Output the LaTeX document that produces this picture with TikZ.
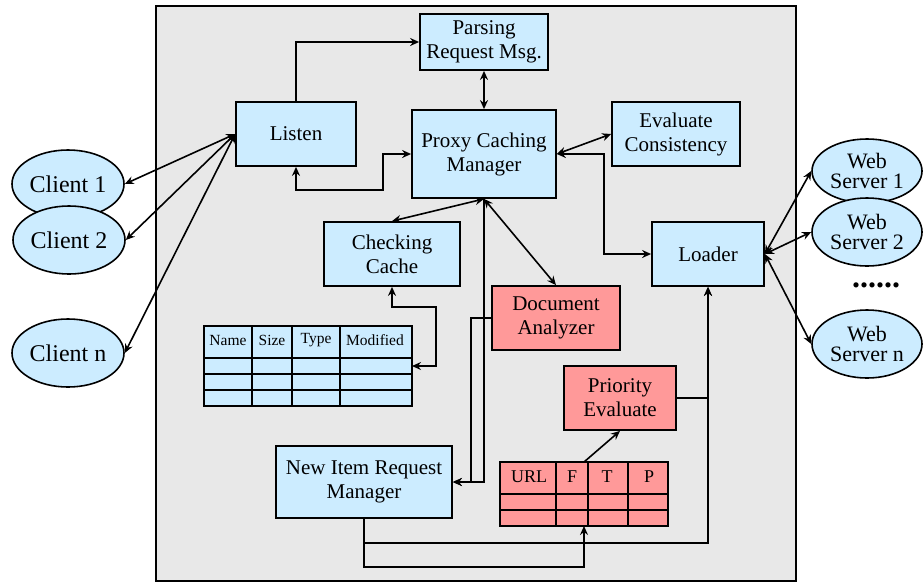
\documentclass[tikz,border=0pt]{standalone}
\usepackage{fontspec}
\setmainfont{Liberation Serif}
\usetikzlibrary{arrows.meta,shapes.geometric}
\definecolor{boxblue}{RGB}{204,236,255}
\definecolor{boxred}{RGB}{255,153,153}
\definecolor{bggray}{RGB}{232,232,232}
\tikzset{
	blk/.style={draw, line width=1.8pt, fill=boxblue, align=center, inner sep=0pt,
		font=\fontsize{21}{24}\selectfont},
	redblk/.style={blk, fill=boxred},
	host/.style={draw, ellipse, line width=1.6pt, fill=boxblue, align=center, inner sep=0pt,
		minimum width=112pt, minimum height=68pt},
	cell/.style={inner sep=0pt, font=\fontsize{15.5}{18}\selectfont},
	link/.style={line width=1.6pt, -{Stealth[length=9pt,width=8pt,inset=3pt]}},
	dlink/.style={link, {Stealth[length=9pt,width=8pt,inset=3pt]}-{Stealth[length=9pt,width=8pt,inset=3pt]}}
}
\begin{document}
\begin{tikzpicture}[x=1pt, y=-1pt]
			\useasboundingbox (0, 0) rectangle (923, 582);
			\filldraw[fill=bggray, line width=1.6pt] (156, 6) rectangle (796, 581);
			% boxes
			\node[blk, minimum width=128pt, minimum height=56pt] (Parsing) at (484, 42) {Parsing\\Request Msg.};
			\node[blk, minimum width=120pt, minimum height=64pt] (Listen) at (296, 134) {Listen};
			\node[blk, minimum width=144pt, minimum height=88pt] (Proxy) at (484, 154) {Proxy Caching\\Manager};
			\node[blk, minimum width=128pt, minimum height=64pt] (Consist) at (676, 134) {Evaluate\\Consistency};
			\node[blk, minimum width=136pt, minimum height=64pt] (Checking) at (392, 254) {Checking\\Cache};
			\node[blk, minimum width=112pt, minimum height=64pt] (Loader) at (708, 254) {Loader};
			\node[redblk, minimum width=128pt, minimum height=64pt] (DocAn) at (556, 318) {Document\\Analyzer};
			\node[redblk, minimum width=112pt, minimum height=64pt] (Priority) at (620, 398) {Priority\\Evaluate};
			\node[blk, minimum width=176pt, minimum height=72pt] (NewItem) at (364, 482) {New Item Request\\Manager};
			% cache table
			\filldraw[fill=boxblue, line width=1.6pt] (204, 326) rectangle (412, 406);
			\foreach \y in {358, 374, 390}
				\draw[line width=1.6pt] (204, \y) -- (412, \y);
			\foreach \x in {252, 292, 340}
				\draw[line width=1.6pt] (\x, 326) -- (\x, 406);
			\node[cell] (colName) at (228, 340) {Name};
			\node[cell] (colSize) at (272, 340) {Size};
			\node[cell] (colType) at (316, 340) {Type};
			\node[cell] (colMod) at (375, 340) {Modified};
			\coordinate (cachetab) at (412, 366);
			% url table
			\filldraw[fill=boxred, line width=1.6pt] (500, 462) rectangle (668, 526);
			\foreach \y in {494, 510}
				\draw[line width=1.6pt] (500, \y) -- (668, \y);
			\foreach \x in {556, 588, 628}
				\draw[line width=1.6pt] (\x, 462) -- (\x, 526);
			\node[cell, font=\fontsize{18}{20}\selectfont] (colURL) at (529, 477) {URL};
			\node[cell, font=\fontsize{18}{20}\selectfont] (colF) at (572, 477) {F};
			\node[cell, font=\fontsize{18}{20}\selectfont] (colT) at (607, 477) {T};
			\node[cell, font=\fontsize{18}{20}\selectfont] (colP) at (649, 477) {P};
			\coordinate (urltop) at (584, 462);
			\coordinate (urlbot) at (584, 526);
			% clients and servers
			\node[host, font=\fontsize{24}{26}\selectfont] (Client1) at (68, 184) {Client 1};
			\node[host, font=\fontsize{24}{26}\selectfont] (Client2) at (69, 240) {Client 2};
			\node[host, font=\fontsize{24}{26}\selectfont] (Clientn) at (68, 353) {Client n};
			\node[host, minimum width=110pt, minimum height=64pt, font=\fontsize{22}{20}\selectfont] (Server1) at (867, 171) {Web\\Server 1};
			\node[host, minimum width=110pt, minimum height=68pt, font=\fontsize{22}{20}\selectfont] (Server2) at (867, 232) {Web\\Server 2};
			\node[host, minimum width=110pt, minimum height=68pt, font=\fontsize{22}{20}\selectfont] (Servern) at (867, 344) {Web\\Server n};
			\node[inner sep=0pt, font=\fontsize{32}{32}\selectfont\bfseries] (dots) at (876, 285) {......};
			% connectors
			\foreach \c in {Client1, Client2, Clientn}
				\draw[dlink] (Listen.west) -- (\c.east);
			\foreach \s in {Server1, Server2, Servern}
				\draw[dlink] (Loader.east) -- (\s.west);
			\draw[link] (Listen.north) |- (Parsing.west);
			\draw[dlink] (Parsing.south) -- (Proxy.north);
			\draw[dlink] (Proxy.west) -- ++(-28, 0) -- ++(0, 36) -| (Listen.south);
			\draw[dlink] (Proxy.east) -- (Consist.west);
			\draw[dlink] (Proxy.east) -- ++(47, 0) |- (Loader.west);
			\draw[dlink] (Proxy.south) -- (Checking.north);
			\draw[dlink] (Proxy.south) -- (DocAn.north);
			\draw[link] (Proxy.south) |- (NewItem.east);
			\draw[link] (DocAn.west) -- ++(-20, 0) |- (NewItem.east);
			\draw[dlink] (Checking.south) -- ++(0, 20) -- ++(44, 0) |- (cachetab);
			\draw[link] (urltop) -- (Priority.south);
			\draw[link] (Priority.east) -| (Loader.south);
			\draw[link] (NewItem.south) -- ++(0, 48) -| (urlbot);
			\draw[link] (NewItem.south) -- ++(0, 24) -| (Loader.south);
		\end{tikzpicture}
\end{document}
